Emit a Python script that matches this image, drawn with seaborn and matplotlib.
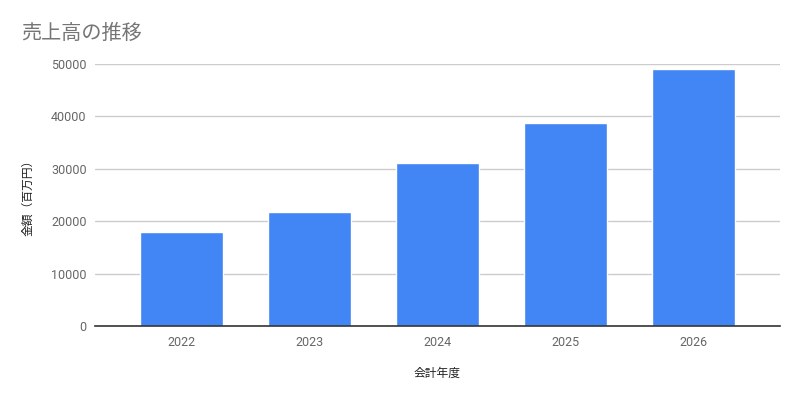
import matplotlib
matplotlib.use("Agg")
import matplotlib.pyplot as plt
import seaborn as sns
import pandas as pd

# data
years = ["2022", "2023", "2024", "2025", "2026"]
sales = [17900, 21800, 31200, 38700, 49100]
yticks = [0, 10000, 20000, 30000, 40000, 50000]

df = pd.DataFrame({"year": years, "sales": sales})

sns.set_theme(style="white")
plt.rcParams['font.family'] = ['Roboto', 'Noto Sans CJK JP', 'DejaVu Sans']

fig = plt.figure(figsize=(8, 4), dpi=100)
ax = fig.add_axes([95 / 800, 1 - 326 / 400, 685 / 800, 262 / 400])

sns.barplot(data=df, x="year", y="sales", color="#4285F4", width=0.645,
            saturation=1, ax=ax, zorder=3)

ax.set_xlim(-0.676, 4.676)
ax.set_ylim(0, 50000)
ax.set_yticks(yticks)
ax.set_yticklabels([str(t) for t in yticks])
ax.yaxis.grid(True, color="#cccccc", linewidth=1, zorder=0)
ax.set_axisbelow(True)

for s in ["top", "right", "left"]:
    ax.spines[s].set_visible(False)
ax.spines["bottom"].set_color("#333333")
ax.spines["bottom"].set_linewidth(1.2)
ax.spines["bottom"].set_zorder(4)

ax.tick_params(axis="both", length=0, labelsize=9, labelcolor="#666666")
ax.tick_params(axis="x", pad=7)
ax.tick_params(axis="y", pad=6)

cjk = ['Noto Sans CJK JP', 'DejaVu Sans']
ax.set_xlabel("会計年度", fontsize=8.5, color="#222222", family=cjk)
ax.xaxis.set_label_coords((437 - 95) / 685, -(367 - 326) / 262)
ax.set_ylabel("金額（百万円）", fontsize=8.5, color="#222222", family=cjk)
ax.yaxis.set_label_coords(-(95 - 34) / 685, 1 - (195 - 64) / 262)

fig.text(21 / 800, 1 - 33 / 400, "売上高の推移", fontsize=14.5, color="#757575",
         family=cjk, va="center", ha="left")

fig.savefig("out.png", dpi=100, facecolor="white")
